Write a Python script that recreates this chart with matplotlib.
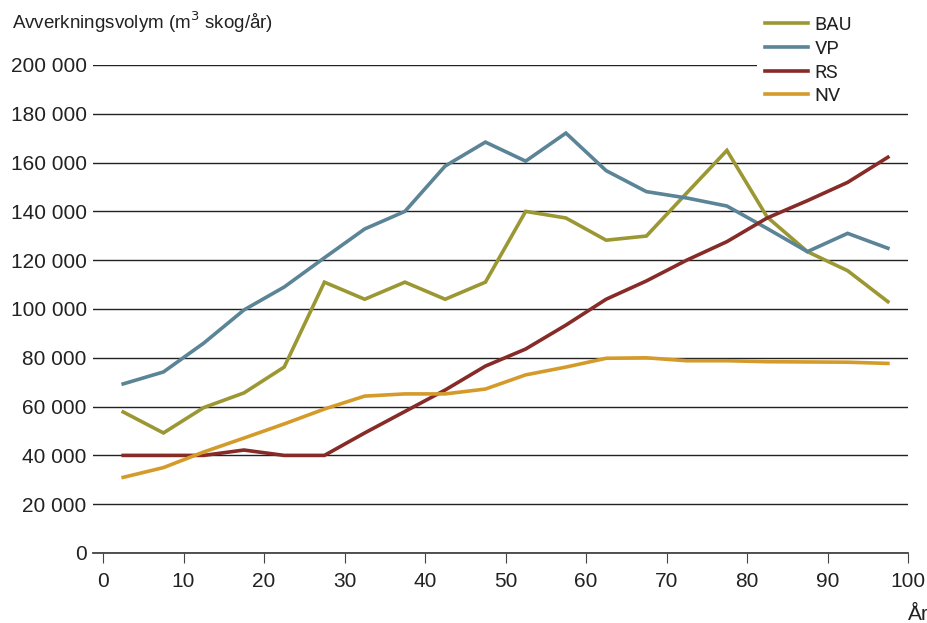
import matplotlib
matplotlib.use("Agg")
import matplotlib.pyplot as plt
from matplotlib.ticker import FuncFormatter, MultipleLocator
from matplotlib.patches import Rectangle

years = [2.5, 7.5, 12.5, 17.5, 22.5, 27.5, 32.5, 37.5, 42.5, 47.5,
         52.5, 57.5, 62.5, 67.5, 72.5, 77.5, 82.5, 87.5, 92.5, 97.5]

bau = [57800, 49200, 59600, 65600, 76200, 111000, 104000, 111000, 104000, 111000,
       140000, 137300, 128200, 129900, 147500, 165000, 137700, 123500, 115700, 103000]
vp = [69300, 74200, 86000, 99600, 109000, 121000, 132800, 140000, 158600, 168400,
      160600, 172100, 156700, 148100, 145500, 142200, 133000, 123500, 131000, 124900]
rs = [40000, 40000, 40000, 42200, 40000, 40000, 49200, 58000, 66800, 76600,
      83600, 93400, 104000, 111500, 120000, 127600, 137300, 144400, 151900, 162200]
nv = [31000, 35000, 41400, 47100, 52900, 59000, 64300, 65200, 65200, 67200,
      73000, 76200, 79800, 80000, 78800, 78800, 78400, 78300, 78200, 77700]

series_names = ["BAU", "VP", "RS", "NV"]
colors = ["#9b9733", "#5b8497", "#862b27", "#d49b2b"]

plt.rcParams['font.family'] = ['Liberation Sans', 'DejaVu Sans']

fig = plt.figure(figsize=(9.28, 6.23), dpi=100)
ax = fig.add_axes([93/928, 70/623, 815/928, 488/623])

for name, vals, c in zip(series_names, [bau, vp, rs, nv], colors):
    ax.plot(years, vals, color=c, lw=2.6, label=name, solid_joinstyle='miter', zorder=3)

ax.set_xlim(-1.25, 100)
ax.set_ylim(0, 200000)
ax.xaxis.set_major_locator(MultipleLocator(10))
ax.yaxis.set_major_locator(MultipleLocator(20000))
ax.yaxis.set_major_formatter(FuncFormatter(lambda v, p: f"{int(v):,}".replace(",", " ")))

ax.grid(axis='y', color='#222222', lw=1.0, zorder=1)
for s in ['top', 'right', 'left']:
    ax.spines[s].set_visible(False)
ax.spines['bottom'].set_color('#444444')
ax.spines['bottom'].set_linewidth(1.3)
ax.spines['bottom'].set_zorder(2)
ax.tick_params(axis='y', length=0, pad=4.5, labelsize=15, labelcolor='#222222')
ax.tick_params(axis='x', direction='out', length=7, width=0.8, color='#444444',
               pad=7, labelsize=15, labelcolor='#222222')

fig.text(12/928, 1 - 22/623, "Avverkningsvolym (m$^3$ skog/år)", fontsize=13.5,
         color='#222222', va='center', ha='left')
fig.text(918/928, 1 - 614/623, "År", fontsize=15, color='#222222', va='center', ha='center')

# white background behind the legend area (covers the top gridline)
ax.add_patch(Rectangle((757/928, 1 - 105/623), (928 - 757)/928, 105/623,
                       transform=fig.transFigure, facecolor='white',
                       edgecolor='none', zorder=4, clip_on=False))

leg = ax.legend(loc='upper left', bbox_to_anchor=(757/928, 1 - 8.5/623),
                bbox_transform=fig.transFigure, frameon=False,
                prop={'family': 'Roboto', 'size': 14},
                handlelength=2.2, handletextpad=0.36,
                labelspacing=0.29, borderaxespad=0, borderpad=0.4)
leg.set_zorder(5)
for t in leg.get_texts():
    t.set_color('#222222')

fig.savefig("out.png", dpi=100)
